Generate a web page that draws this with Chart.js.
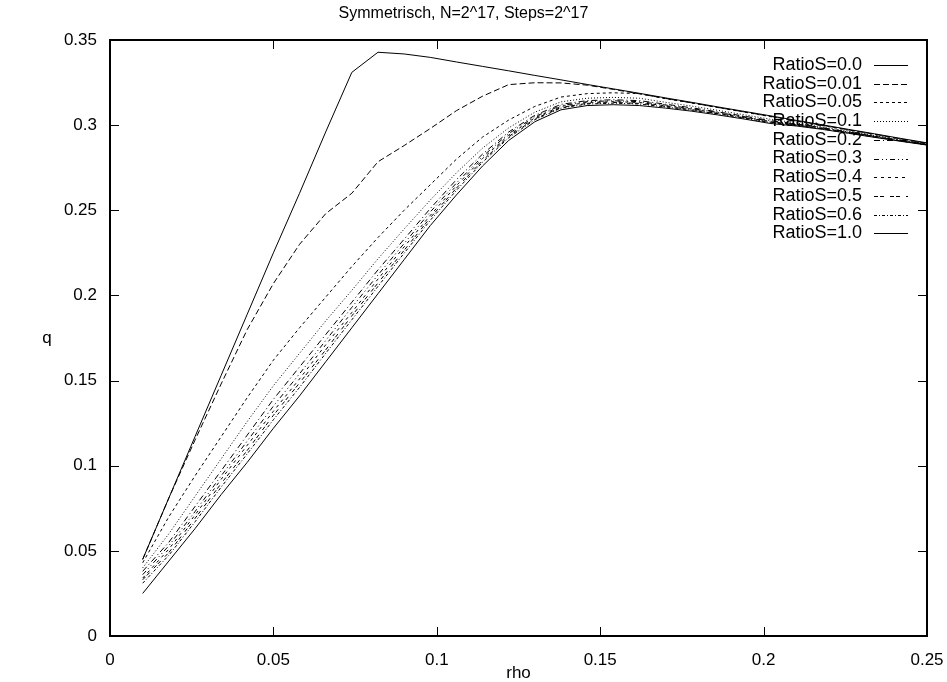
<!DOCTYPE html>
<html>
<head>
<meta charset="utf-8">
<title>Symmetrisch, N=2^17, Steps=2^17</title>
<script src="https://cdn.jsdelivr.net/npm/chart.js@4.4.0/dist/chart.umd.js"></script>
<style>
  html, body { margin: 0; padding: 0; background: #fff; }
  canvas { display: block; }
</style>
</head>
<body>
<canvas id="chart" width="947" height="682"></canvas>
<script>
// rho grid (x values shared by every run)
const rho = [0.010, 0.018, 0.026, 0.034, 0.042, 0.050, 0.058, 0.066, 0.074, 0.082,
             0.090, 0.098, 0.106, 0.114, 0.122, 0.130, 0.138, 0.146, 0.154, 0.162,
             0.170, 0.178, 0.186, 0.194, 0.202, 0.210, 0.218, 0.226, 0.234, 0.242, 0.250];

const ratioLabels = ['RatioS=0.0', 'RatioS=0.01', 'RatioS=0.05', 'RatioS=0.1', 'RatioS=0.2',
                     'RatioS=0.3', 'RatioS=0.4', 'RatioS=0.5', 'RatioS=0.6', 'RatioS=1.0'];

// q(rho) for each RatioS
const q00  = [0.045, 0.081, 0.117, 0.153, 0.189, 0.225, 0.260, 0.296, 0.331, 0.3428,
              0.3418, 0.3398, 0.3371, 0.3345, 0.3319, 0.3292, 0.3266, 0.3239, 0.3213, 0.3187,
              0.3160, 0.3134, 0.3107, 0.3081, 0.3055, 0.3028, 0.3002, 0.2975, 0.2949, 0.2922, 0.2896];
const q001 = [0.045, 0.081, 0.115, 0.148, 0.180, 0.207, 0.230, 0.248, 0.260, 0.2785,
              0.288, 0.298, 0.3085, 0.317, 0.3238, 0.3249, 0.3248, 0.3235, 0.3210, 0.3184,
              0.3157, 0.3131, 0.3104, 0.3078, 0.3052, 0.3025, 0.2999, 0.2972, 0.2946, 0.2919, 0.2893];
const q005 = [0.043, 0.070, 0.094, 0.117, 0.140, 0.162, 0.181, 0.199, 0.217, 0.234,
              0.250, 0.265, 0.280, 0.293, 0.303, 0.311, 0.3165, 0.3185, 0.3190, 0.3185,
              0.3155, 0.3130, 0.3103, 0.3077, 0.3050, 0.3024, 0.2998, 0.2971, 0.2945, 0.2918, 0.2892];
const q01  = [0.040, 0.060, 0.082, 0.104, 0.126, 0.147, 0.166, 0.185, 0.203, 0.2215,
              0.239, 0.256, 0.272, 0.2865, 0.2984, 0.3076, 0.3137, 0.3158, 0.3163, 0.3158,
              0.3134, 0.3112, 0.3087, 0.3061, 0.3035, 0.3013, 0.2989, 0.2964, 0.2939, 0.2913, 0.2889];
const q02  = [0.038, 0.055, 0.076, 0.097, 0.118, 0.139, 0.158, 0.177, 0.196, 0.215,
              0.233, 0.251, 0.268, 0.283, 0.296, 0.3058, 0.3122, 0.3144, 0.3149, 0.3144,
              0.3123, 0.3102, 0.3078, 0.3053, 0.3027, 0.3007, 0.2985, 0.2960, 0.2935, 0.2910, 0.2887];
const q03  = [0.036, 0.053, 0.073, 0.094, 0.1145, 0.135, 0.154, 0.1735, 0.193, 0.212,
              0.2305, 0.249, 0.266, 0.2816, 0.295, 0.305, 0.3115, 0.3138, 0.3143, 0.3138,
              0.3118, 0.3098, 0.3074, 0.3050, 0.3023, 0.3005, 0.2983, 0.2958, 0.2934, 0.2909, 0.2886];
const q04  = [0.034, 0.051, 0.071, 0.092, 0.112, 0.132, 0.151, 0.171, 0.190, 0.2096,
              0.2285, 0.247, 0.2645, 0.2804, 0.2941, 0.3043, 0.3110, 0.3133, 0.3138, 0.3133,
              0.3114, 0.3094, 0.3071, 0.3047, 0.3020, 0.3003, 0.2981, 0.2957, 0.2932, 0.2908, 0.2885];
const q05  = [0.033, 0.049, 0.069, 0.0895, 0.109, 0.1296, 0.1486, 0.168, 0.188, 0.2073,
              0.2265, 0.2456, 0.263, 0.2792, 0.2933, 0.3037, 0.3104, 0.3128, 0.3133, 0.3128,
              0.3110, 0.3091, 0.3068, 0.3044, 0.3018, 0.3001, 0.2979, 0.2956, 0.2931, 0.2907, 0.2885];
const q06  = [0.031, 0.0474, 0.067, 0.0874, 0.107, 0.127, 0.146, 0.166, 0.1857, 0.2053,
              0.2248, 0.2441, 0.2617, 0.2782, 0.2926, 0.3032, 0.3100, 0.3124, 0.3129, 0.3124,
              0.3107, 0.3088, 0.3066, 0.3041, 0.3015, 0.2999, 0.2978, 0.2954, 0.2930, 0.2907, 0.2884];
const q10  = [0.025, 0.044, 0.063, 0.083, 0.102, 0.122, 0.141, 0.161, 0.181, 0.201,
              0.221, 0.241, 0.259, 0.276, 0.291, 0.302, 0.309, 0.3115, 0.3120, 0.3115,
              0.3100, 0.3082, 0.3060, 0.3036, 0.3010, 0.2995, 0.2975, 0.2952, 0.2928, 0.2905, 0.2883];

const xTickLabels = ['0', '0.05', '0.1', '0.15', '0.2', '0.25'];
const yTickLabels = ['0', '0.05', '0.1', '0.15', '0.2', '0.25', '0.3', '0.35'];

// gnuplot-ish line types, one per run
const dashes = [[], [6, 3], [3, 3], [1, 2], [6, 3, 1, 3], [5, 3, 1, 3, 1, 3], [3, 4], [4, 2, 4, 6], [3, 2, 1, 2], []];
const series = [q00, q001, q005, q01, q02, q03, q04, q05, q06, q10];

const FONT = '"Liberation Sans", Arial, sans-serif';

const datasets = series.map((s, k) => ({
    label: ratioLabels[k],
    data: rho.map((x, i) => ({ x: x, y: s[i] })),
    borderColor: '#000',
    borderWidth: 1,
    borderDash: dashes[k],
    pointRadius: 0,
    fill: false,
    tension: 0
}));

// Key on the right, drawn under the curves
const keyPlugin = {
    id: 'key',
    beforeDatasetsDraw(chart) {
        const ctx = chart.ctx;
        ctx.save();
        ctx.font = '18px ' + FONT;
        ctx.fillStyle = '#000';
        ctx.textAlign = 'right';
        ctx.textBaseline = 'middle';
        chart.data.datasets.forEach((ds, i) => {
            const y = 65 + i * 18.7;
            ctx.fillText(ds.label, 862, y);
            ctx.beginPath();
            ctx.strokeStyle = '#000';
            ctx.lineWidth = 1;
            ctx.setLineDash(ds.borderDash);
            ctx.moveTo(874, Math.round(y) + 0.5);
            ctx.lineTo(908, Math.round(y) + 0.5);
            ctx.stroke();
        });
        ctx.restore();
    }
};

// Box border, inward ticks on all sides, axis titles
const framePlugin = {
    id: 'frame',
    afterDatasetsDraw(chart) {
        const ctx = chart.ctx;
        const a = chart.chartArea;
        const xs = chart.scales.x, ys = chart.scales.y;
        const tl = 9;
        ctx.save();
        ctx.strokeStyle = '#000';
        ctx.setLineDash([]);
        ctx.lineWidth = 1;
        ctx.beginPath();
        xs.ticks.forEach(t => {
            const px = Math.round(xs.getPixelForValue(t.value)) + 0.5;
            ctx.moveTo(px, a.bottom); ctx.lineTo(px, a.bottom - tl);
            ctx.moveTo(px, a.top); ctx.lineTo(px, a.top + tl);
        });
        ys.ticks.forEach(t => {
            const py = Math.round(ys.getPixelForValue(t.value)) + 0.5;
            ctx.moveTo(a.left, py); ctx.lineTo(a.left + tl, py);
            ctx.moveTo(a.right, py); ctx.lineTo(a.right - tl, py);
        });
        ctx.stroke();
        ctx.lineWidth = 2;
        ctx.strokeRect(a.left, a.top, a.right - a.left, a.bottom - a.top);

        ctx.fillStyle = '#000';
        ctx.font = '17px ' + FONT;
        ctx.textAlign = 'center';
        ctx.textBaseline = 'middle';
        ctx.fillText('q', 47, 338);
        ctx.fillText('rho', (a.left + a.right) / 2, 673);
        ctx.restore();
    }
};

new Chart(document.getElementById('chart'), {
    type: 'line',
    data: { datasets: datasets },
    options: {
        responsive: false,
        animation: false,
        devicePixelRatio: 1,
        layout: { padding: { left: 0, right: 20, top: 0, bottom: 0 } },
        plugins: {
            legend: { display: false },
            tooltip: { enabled: false },
            title: {
                display: true,
                text: 'Symmetrisch, N=2^17, Steps=2^17',
                color: '#000',
                font: { family: FONT, size: 16, weight: 'normal' },
                padding: { top: 4, bottom: 16.8 }
            }
        },
        scales: {
            x: {
                type: 'linear',
                min: 0,
                max: 0.25,
                grid: { display: false, drawTicks: false },
                border: { display: false },
                ticks: {
                    stepSize: 0.05,
                    color: '#000',
                    padding: 14,
                    maxRotation: 0,
                    font: { family: FONT, size: 17 },
                    callback: (v, i) => xTickLabels[i]
                },
                afterFit: s => { s.height = 46; s.paddingLeft = 0; s.paddingRight = 0; }
            },
            y: {
                type: 'linear',
                min: 0,
                max: 0.35,
                grid: { display: false, drawTicks: false },
                border: { display: false },
                ticks: {
                    stepSize: 0.05,
                    color: '#000',
                    padding: 13,
                    font: { family: FONT, size: 17 },
                    callback: (v, i) => yTickLabels[i]
                },
                afterFit: s => { s.width = 110; }
            }
        }
    },
    plugins: [keyPlugin, framePlugin]
});
</script>
</body>
</html>
